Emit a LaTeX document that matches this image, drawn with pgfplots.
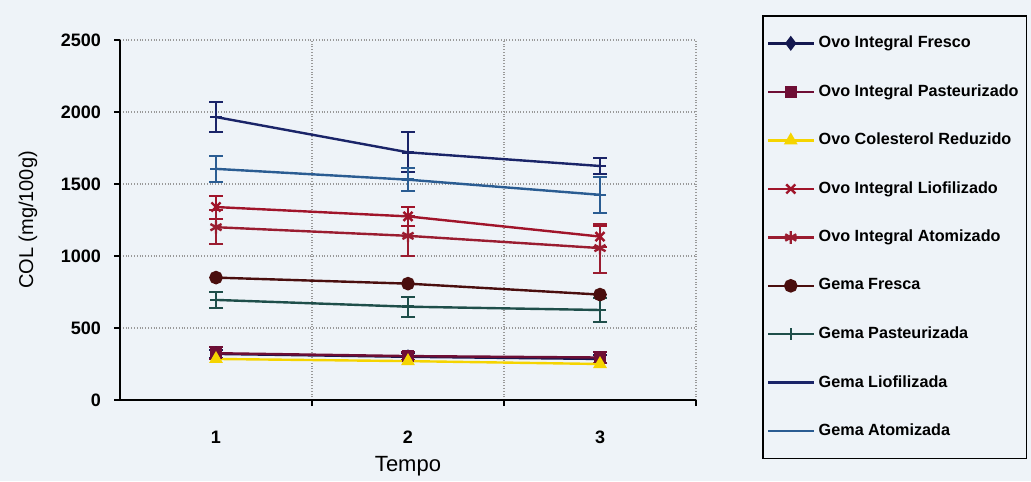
\documentclass[border=0pt]{standalone}
\usepackage{pgfplots}
\pgfplotsset{compat=1.18}
\usepackage{fontspec}
\setmainfont{Liberation Sans}

\definecolor{paper}{HTML}{EEF3F8}
\definecolor{cOIF}{HTML}{141850}
\definecolor{cOIP}{HTML}{6E0E35}
\definecolor{cOCR}{HTML}{F5D400}
\definecolor{cOIL}{HTML}{A0142A}
\definecolor{cOIA}{HTML}{9A1C30}
\definecolor{cGF}{HTML}{4A0E0E}
\definecolor{cGP}{HTML}{1E4E4A}
\definecolor{cGL}{HTML}{1A2468}
\definecolor{cGA}{HTML}{2A5C92}

\pgfplotsset{
  eb/.style={error bars/.cd, y dir=both, y explicit,
    error bar style={line width=1pt, solid},
    error mark options={rotate=90, mark size=3.5pt, line width=1pt}},
}

\begin{document}
\begin{tikzpicture}
\fill[paper] (0,0) rectangle (515.5pt,240.5pt);
\useasboundingbox (0,0) rectangle (515.5pt,240.5pt);
\begin{axis}[
  at={(60pt,40.5pt)}, anchor=south west,
  scale only axis, width=288pt, height=180pt,
  xmin=0.5, xmax=3.5, ymin=0, ymax=2500,
  xtick={1.5,2.5,3.5}, xticklabels={},
  extra x ticks={1,2,3},
  extra x tick labels={1,2,3},
  extra x tick style={grid=none, major tick length=0pt,
    xticklabel style={yshift=-12pt}},
  ytick={0,500,1000,1500,2000,2500},
  yticklabel style={xshift=-3pt},
  scaled y ticks=false,
  /pgf/number format/set thousands separator={},
  /pgf/number format/assume math mode=true,
  tick label style={font=\bfseries\fontsize{9}{10}\selectfont, black},
  axis x line*=bottom, axis y line*=left,
  axis line style={-, black, line width=0.9pt},
  tick align=outside, major tick length=3pt,
  tick style={black, line width=0.8pt},
  xmajorgrids, ymajorgrids,
  major grid style={densely dotted, gray!80, line width=0.9pt},
  xlabel={Tempo}, ylabel={COL (mg/100g)},
  xlabel style={font=\fontsize{11}{12}\selectfont, at={(axis description cs:0.5,-0.183)}, anchor=center},
  ylabel style={font=\fontsize{10}{12}\selectfont, at={(axis description cs:-0.16,0.5)}, anchor=center},
  legend style={at={(1.1146,1.069)}, anchor=north west,
    draw=black, line width=0.8pt, fill=none,
    font=\bfseries\fontsize{8.1}{9.5}\selectfont,
    row sep=12.9pt, inner xsep=2pt, inner ysep=8pt,
    cells={anchor=west}},
  legend image code/.code={
    \draw[mark repeat=2, mark phase=2] plot coordinates {(0cm,0cm) (0.4cm,0cm) (0.8cm,0cm)};},
  every axis plot/.append style={line width=1.2pt},
]
% Ovo Integral Fresco
\addplot[cOIF, mark=diamond*, mark size=2.8pt, mark options={fill=cOIF}, eb]
  coordinates {(1,320) +- (0,30) (2,300) +- (0,25) (3,285) +- (0,25)};
\addlegendentry{Ovo Integral Fresco}
% Ovo Integral Pasteurizado
\addplot[cOIP, mark=square*, mark size=2.3pt, mark options={fill=cOIP}, eb]
  coordinates {(1,325) +- (0,40) (2,305) +- (0,25) (3,295) +- (0,35)};
\addlegendentry{Ovo Integral Pasteurizado}
% Ovo Colesterol Reduzido
\addplot[cOCR, mark=triangle*, mark size=2.8pt, mark options={fill=cOCR}]
  coordinates {(1,285) (2,270) (3,250)};
\addlegendentry{Ovo Colesterol Reduzido}
% Ovo Integral Liofilizado
\addplot[cOIL, mark=x, mark size=3.2pt, eb]
  coordinates {(1,1340) +- (0,80) (2,1275) +- (0,65) (3,1135) +- (0,70)};
\addlegendentry{Ovo Integral Liofilizado}
% Ovo Integral Atomizado
\addplot[cOIA, mark=asterisk, mark size=3.2pt, eb]
  coordinates {(1,1200) +- (0,120) (2,1140) +- (0,140) (3,1055) +- (0,170)};
\addlegendentry{Ovo Integral Atomizado}
% Gema Fresca
\addplot[cGF, mark=*, mark size=2.8pt, mark options={fill=cGF}]
  coordinates {(1,850) (2,808) (3,732)};
\addlegendentry{Gema Fresca}
% Gema Pasteurizada
\addplot[cGP, mark=+, mark size=3pt, eb]
  coordinates {(1,695) +- (0,58) (2,648) +- (0,70) (3,625) +- (0,80)};
\addlegendentry{Gema Pasteurizada}
% Gema Liofilizada
\addplot[cGL, mark=-, mark size=3pt, eb]
  coordinates {(1,1965) +- (0,105) (2,1720) +- (0,140) (3,1625) +- (0,58)};
\addlegendentry{Gema Liofilizada}
% Gema Atomizada
\addplot[cGA, mark=-, mark size=3pt, eb]
  coordinates {(1,1605) +- (0,88) (2,1530) +- (0,80) (3,1425) +- (0,123)};
\addlegendentry{Gema Atomizada}
\end{axis}
\end{tikzpicture}
\end{document}
